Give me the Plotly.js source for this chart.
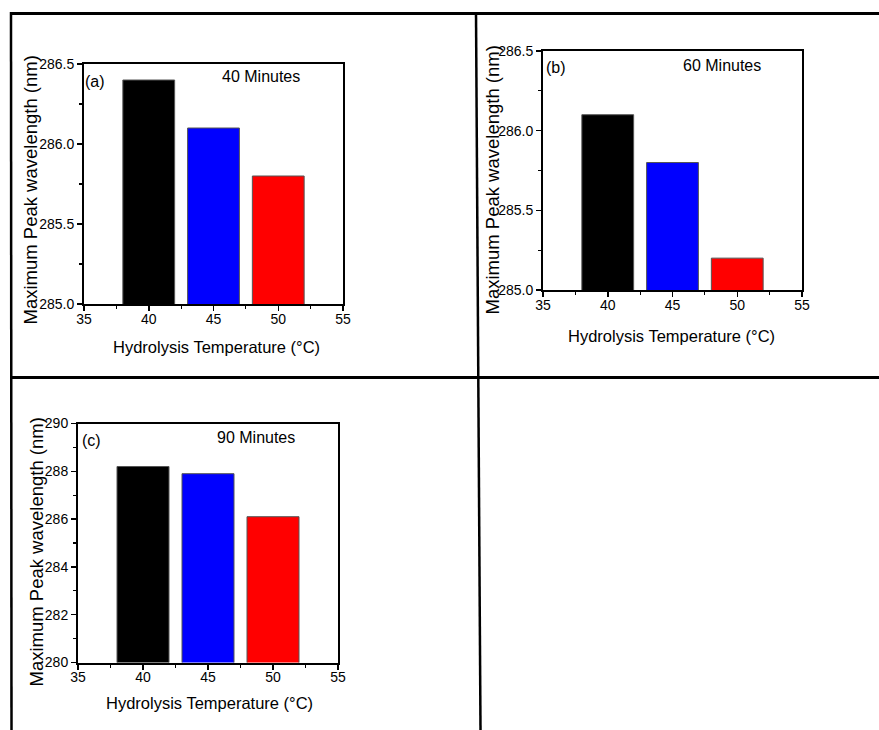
<!DOCTYPE html>
<html>
<head>
<meta charset="utf-8">
<script src="https://cdn.plot.ly/plotly-3.0.1.min.js"></script>
<style>html,body{margin:0;padding:0;background:#fff;}#chart{width:879px;height:730px;}</style>
</head>
<body>
<div id="chart"></div>
<script>
// Data
const temperatures = [40, 45, 50];
const peak40min = [286.4, 286.1, 285.8];
const peak60min = [286.1, 285.8, 285.2];
const peak90min = [288.2, 287.9, 286.1];
const barColors = ['#000000', '#0000ff', '#ff0000'];
const panelLabels = ['(a)', '(b)', '(c)'];
const timeLabels = ['40 Minutes', '60 Minutes', '90 Minutes'];
const xTitle = 'Hydrolysis Temperature (°C)';
const yTitle = 'Maximum Peak wavelength (nm)';

const W = 879, H = 730;
const px = v => v / W;
const py = v => 1 - v / H;
const FONT = 'Liberation Sans, Arial, sans-serif';

function barTrace(vals, xa, ya) {
  return {
    type: 'bar', x: temperatures, y: vals, width: 4,
    xaxis: xa, yaxis: ya,
    marker: {color: barColors, line: {color: '#555', width: 1}},
    showlegend: false, hoverinfo: 'x+y'
  };
}

const data = [
  barTrace(peak40min, 'x', 'y'),
  barTrace(peak60min, 'x2', 'y2'),
  barTrace(peak90min, 'x3', 'y3')
];

function xAxis(d0, d1, anchor) {
  return {
    domain: [px(d0), px(d1)], range: [35, 55], dtick: 5, tick0: 35,
    anchor: anchor, showline: true, linewidth: 2, linecolor: '#000', mirror: true,
    ticks: 'outside', ticklen: 5, tickwidth: 1.5, tickcolor: '#000',
    ticklabelstandoff: -4,
    minor: {ticks: 'outside', ticklen: 3, tickwidth: 1.2, tickcolor: '#000', dtick: 2.5, tick0: 35, showgrid: false},
    showgrid: false, zeroline: false, fixedrange: true,
    tickfont: {family: FONT, size: 14, color: '#000'}
  };
}
function yAxis(top, bottom, rng, dt, mdt, fmt, anchor) {
  return {
    domain: [py(bottom), py(top)], range: rng, dtick: dt, tick0: rng[0],
    anchor: anchor, showline: true, linewidth: 2, linecolor: '#000', mirror: true,
    ticks: 'outside', ticklen: 5, tickwidth: 1.5, tickcolor: '#000',
    minor: {ticks: 'outside', ticklen: 3, tickwidth: 1.2, tickcolor: '#000', dtick: mdt, tick0: rng[0], showgrid: false},
    showgrid: false, zeroline: false, fixedrange: true, tickformat: fmt,
    tickfont: {family: FONT, size: 14, color: '#000'}
  };
}

function ann(text, x, y, size, xanchor, angle) {
  return {
    text: text, xref: 'paper', yref: 'paper', x: px(x), y: py(y),
    xanchor: xanchor || 'center', yanchor: 'middle', showarrow: false,
    textangle: angle || 0,
    font: {family: FONT, size: size, color: '#000'}
  };
}

const annotations = [
  ann(panelLabels[0], 83, 81, 16, 'left'),
  ann(timeLabels[0], 261, 77, 16),
  ann(panelLabels[1], 544, 67, 16, 'left'),
  ann(timeLabels[1], 722, 66, 16),
  ann(panelLabels[2], 80, 440, 16, 'left'),
  ann(timeLabels[2], 256, 437, 16),
  ann(xTitle, 216, 347, 16.5),
  ann(xTitle, 671, 336, 16.5),
  ann(xTitle, 209, 703, 16.5),
  ann(yTitle, 30.5, 190, 18.5, 'center', -90),
  ann(yTitle, 491.5, 180, 18.5, 'center', -90),
  ann(yTitle, 35.5, 552, 18.5, 'center', -90)
];

function line(x0, y0, x1, y1, w) {
  return {type: 'line', xref: 'paper', yref: 'paper', x0: px(x0), y0: py(y0), x1: px(x1), y1: py(y1),
          line: {color: '#000', width: w}, layer: 'above'};
}
const shapes = [
  line(10, 13.5, 879, 13.5, 3),
  line(11, 12, 11.5, 730, 2.5),
  line(476, 12, 480.5, 730, 2.5),
  line(10, 377.5, 879, 377.5, 3)
];

const layout = {
  width: W, height: H,
  margin: {l: 0, r: 0, t: 0, b: 0},
  paper_bgcolor: '#fff', plot_bgcolor: '#fff',
  showlegend: false,
  xaxis: xAxis(84, 343, 'y'),
  yaxis: yAxis(64, 304, [285, 286.5], 0.5, 0.25, '.1f', 'x'),
  xaxis2: xAxis(543, 802, 'y2'),
  yaxis2: yAxis(51, 290, [285, 286.5], 0.5, 0.25, '.1f', 'x2'),
  xaxis3: xAxis(78, 338, 'y3'),
  yaxis3: yAxis(423.5, 662.5, [280, 290], 2, 1, 'd', 'x3'),
  annotations: annotations,
  shapes: shapes
};

Plotly.newPlot('chart', data, layout, {displayModeBar: false, staticPlot: true});
</script>
</body>
</html>
